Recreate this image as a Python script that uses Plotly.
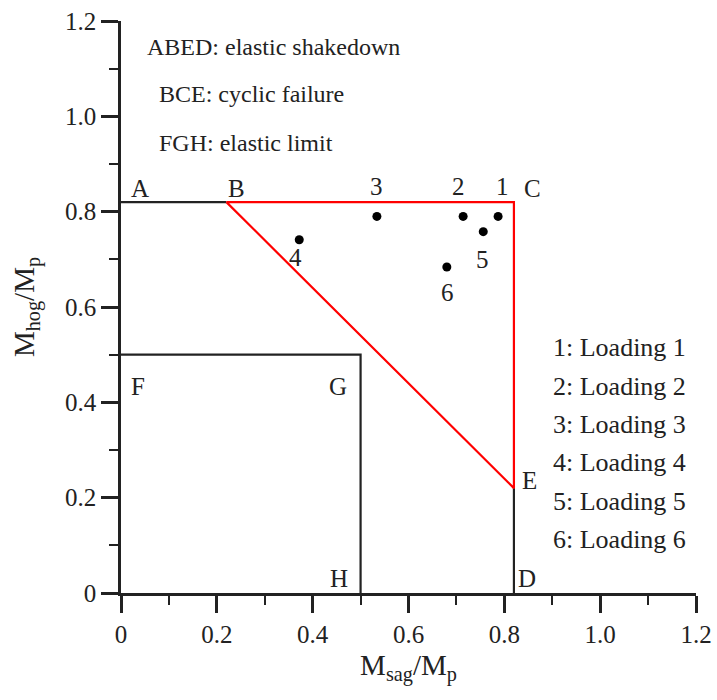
import plotly.graph_objects as go

# ---- data ----
corner_names = ["A", "B", "C", "E", "D", "F", "G", "H"]
corner_x = [0.0, 0.22, 0.82, 0.82, 0.82, 0.0, 0.5, 0.5]
corner_y = [0.82, 0.82, 0.82, 0.22, 0.0, 0.5, 0.5, 0.0]

load_ids = ["1", "2", "3", "4", "5", "6"]
load_x = [0.787, 0.714, 0.534, 0.372, 0.756, 0.680]
load_y = [0.790, 0.790, 0.790, 0.741, 0.758, 0.684]

region_notes = ["ABED: elastic shakedown", "BCE: cyclic failure", "FGH: elastic limit"]
legend_notes = ["1: Loading 1", "2: Loading 2", "3: Loading 3",
                "4: Loading 4", "5: Loading 5", "6: Loading 6"]

x_ticks = [0, 0.2, 0.4, 0.6, 0.8, 1.0, 1.2]
x_tick_text = ["0", "0.2", "0.4", "0.6", "0.8", "1.0", "1.2"]
y_ticks = [0, 0.2, 0.4, 0.6, 0.8, 1.0, 1.2]
y_tick_text = ["0", "0.2", "0.4", "0.6", "0.8", "1.0", "1.2"]

pt = dict(zip(corner_names, zip(corner_x, corner_y)))

FONT = "Liberation Serif, Times New Roman, serif"
TXT = "#222222"
LINE = "#222222"

fig = go.Figure()

def seg(names, color):
    fig.add_trace(go.Scatter(
        x=[pt[n][0] for n in names], y=[pt[n][1] for n in names],
        mode="lines", line=dict(color=color, width=2.2),
        showlegend=False, hoverinfo="skip", cliponaxis=False))

seg(["A", "B"], LINE)
seg(["D", "E"], LINE)
seg(["F", "G", "H"], LINE)
seg(["B", "C", "E", "B"], "#ff0000")

fig.add_trace(go.Scatter(
    x=load_x, y=load_y, mode="markers",
    marker=dict(color="black", size=9),
    showlegend=False, hoverinfo="skip"))

annotations = []
# corner letter label offsets (pixels)
corner_off = {"A": (19, 14), "B": (10, 14), "C": (19, 14), "E": (16, 8),
              "D": (13, 15), "F": (17, -32), "G": (-23, -32), "H": (-22, 15)}
for n in corner_names:
    dx, dy = corner_off[n]
    annotations.append(dict(x=pt[n][0], y=pt[n][1], xref="x", yref="y",
                            text=n, showarrow=False, xshift=dx, yshift=dy,
                            xanchor="center", yanchor="middle",
                            font=dict(family=FONT, size=25, color=TXT)))
load_off = [(4, 30), (-5, 30), (0, 30), (-4, -18), (-1, -28), (1, -26)]
for lid, lx, ly, (dx, dy) in zip(load_ids, load_x, load_y, load_off):
    annotations.append(dict(x=lx, y=ly, xref="x", yref="y", text=lid,
                            showarrow=False, xshift=dx, yshift=dy,
                            xanchor="center", yanchor="middle",
                            font=dict(family=FONT, size=25, color=TXT)))
note_pos = [(0.050, 1.145), (0.075, 1.046), (0.075, 0.945)]
for t, (nx, ny) in zip(region_notes, note_pos):
    annotations.append(dict(x=nx, y=ny, xref="x", yref="y", text=t,
                            showarrow=False, xanchor="left", yanchor="middle",
                            font=dict(family=FONT, size=24, color=TXT)))
leg_y = [0.514, 0.434, 0.354, 0.273, 0.191, 0.113]
for t, ly in zip(legend_notes, leg_y):
    annotations.append(dict(x=0.897, y=ly, xref="x", yref="y", text=t,
                            showarrow=False, xanchor="left", yanchor="middle",
                            font=dict(family=FONT, size=26, color=TXT)))

axis_common = dict(
    showline=True, linecolor=LINE, linewidth=2.5,
    showgrid=False, zeroline=False, mirror=False, automargin=False,
    ticks="outside", ticklen=17, tickwidth=2.5, tickcolor=LINE,
    tickfont=dict(family=FONT, size=25, color=TXT),
    minor=dict(ticks="outside", ticklen=9, tickwidth=2, tickcolor=LINE, dtick=0.1, showgrid=False),
)

fig.update_layout(
    width=717, height=700,
    margin=dict(l=121, r=21, t=21, b=107),
    paper_bgcolor="white", plot_bgcolor="white",
    xaxis=dict(range=[0, 1.2], tickmode="array", tickvals=x_ticks, ticktext=x_tick_text,
               title=dict(text="M<sub>sag</sub>/M<sub>p</sub>", standoff=8,
                          font=dict(family=FONT, size=29, color=TXT)),
               **axis_common),
    yaxis=dict(range=[0, 1.2], tickmode="array", tickvals=y_ticks, ticktext=y_tick_text,
               title=dict(text="M<sub>hog</sub>/M<sub>p</sub>", standoff=22,
                          font=dict(family=FONT, size=29, color=TXT)),
               **axis_common),
    annotations=annotations,
    showlegend=False,
)

fig.write_html("out.html", config={"displayModeBar": False},
               post_script="document.body.style.margin='0';document.body.style.overflow='hidden';")
